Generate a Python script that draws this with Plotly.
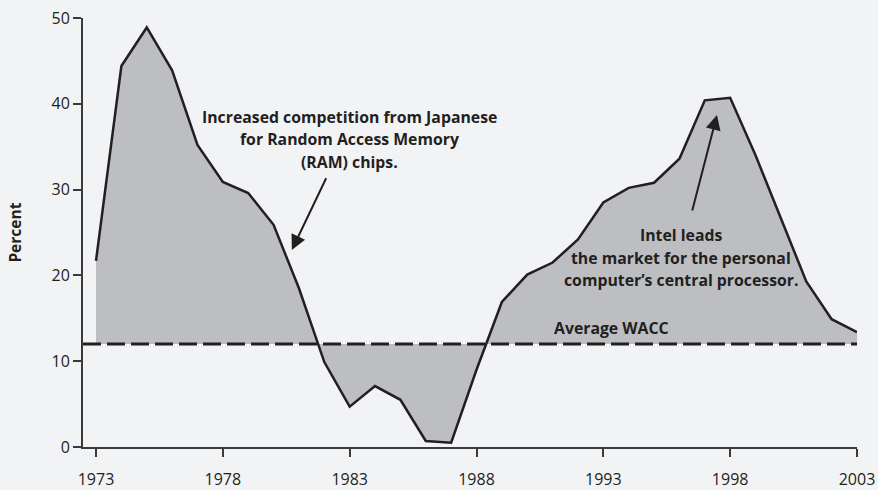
import plotly.graph_objects as go

# Return on invested capital by year, with the average cost of capital
years = list(range(1973, 2004))
roic = [21.7, 44.4, 48.9, 43.9, 35.2, 30.9, 29.6, 25.9, 18.5, 9.9,
        4.7, 7.1, 5.5, 0.7, 0.5, 9.0, 16.9, 20.1, 21.5, 24.2,
        28.5, 30.2, 30.8, 33.6, 40.4, 40.7, 34.0, 26.6, 19.3, 14.9, 13.4]
avg_wacc = 12
x_ticks = [1973, 1978, 1983, 1988, 1993, 1998, 2003]
y_ticks = [0, 10, 20, 30, 40, 50]

ram_note = ["Increased competition from Japanese",
            "for Random Access Memory",
            "(RAM) chips."]
intel_note = ["Intel leads",
              "the market for the personal",
              "computer\u2019s central processor."]

BG = "#f2f3f5"
INK = "#231f20"
FILL = "#bdbec1"
FONT = "Open Sans"

fig = go.Figure()

# baseline at the average WACC, used as the lower edge of the shaded area
fig.add_trace(go.Scatter(
    x=years, y=[avg_wacc] * len(years), mode="lines",
    line=dict(width=0, color=FILL), hoverinfo="skip", showlegend=False))

fig.add_trace(go.Scatter(
    x=years, y=roic, mode="lines", fill="tonexty", fillcolor=FILL,
    line=dict(color=INK, width=2.5), showlegend=False))

# dashed WACC reference line across the plot
fig.add_shape(type="line", xref="paper", x0=0, x1=1, yref="y",
              y0=avg_wacc, y1=avg_wacc, layer="above",
              line=dict(color=INK, width=3, dash="18px,6px"))

bold = dict(family=FONT, size=15.8, color=INK, weight="bold")


def note(lines, x_center, y_first, step=2.62):
    # one annotation per line keeps the line spacing fixed
    for i, line in enumerate(lines):
        fig.add_annotation(x=x_center, y=y_first - i * step, xref="x", yref="y",
                           showarrow=False, text=line, font=bold,
                           xanchor="center", yanchor="middle")


note(ram_note, 1982.98, 38.5)
fig.add_annotation(
    x=1980.72, y=22.96, ax=1982.10, ay=31.5, xref="x", yref="y",
    axref="x", ayref="y", text="", showarrow=True,
    arrowhead=2, arrowsize=1.5, arrowwidth=2, arrowcolor=INK)

note(intel_note, 1996.07, 24.7)
fig.add_annotation(
    x=1997.48, y=38.7, ax=1996.49, ay=27.4, xref="x", yref="y",
    axref="x", ayref="y", text="", showarrow=True,
    arrowhead=2, arrowsize=1.5, arrowwidth=2, arrowcolor=INK)

fig.add_annotation(
    x=1993.31, y=13.9, xref="x", yref="y", showarrow=False,
    text="Average WACC", font=bold, xanchor="center", yanchor="middle")

fig.add_annotation(
    x=-0.089, y=0.5, xref="paper", yref="paper", showarrow=False,
    text="Percent", textangle=-90, xanchor="center", yanchor="middle",
    font=dict(family=FONT, size=15.5, color=INK, weight="bold"))

fig.update_layout(
    width=878, height=490,
    margin=dict(l=83, r=21, t=18, b=43, autoexpand=False),
    paper_bgcolor=BG, plot_bgcolor=BG,
    font=dict(family=FONT, size=16, color=INK),
    xaxis=dict(range=[1972.487, 2003], tickvals=x_ticks, automargin=False,
               showgrid=False, zeroline=False, showline=True,
               linecolor="#3a3a3a", linewidth=2, ticks="outside",
               ticklen=8, tickwidth=1.5, tickcolor="#3a3a3a",
               ticklabelstandoff=9),
    yaxis=dict(range=[0, 50], tickvals=y_ticks, automargin=False,
               showgrid=False, zeroline=False, showline=True,
               linecolor="#3a3a3a", linewidth=2, ticks="outside",
               ticklen=8, tickwidth=1.5, tickcolor="#3a3a3a"),
)

fig.write_html("out.html")
